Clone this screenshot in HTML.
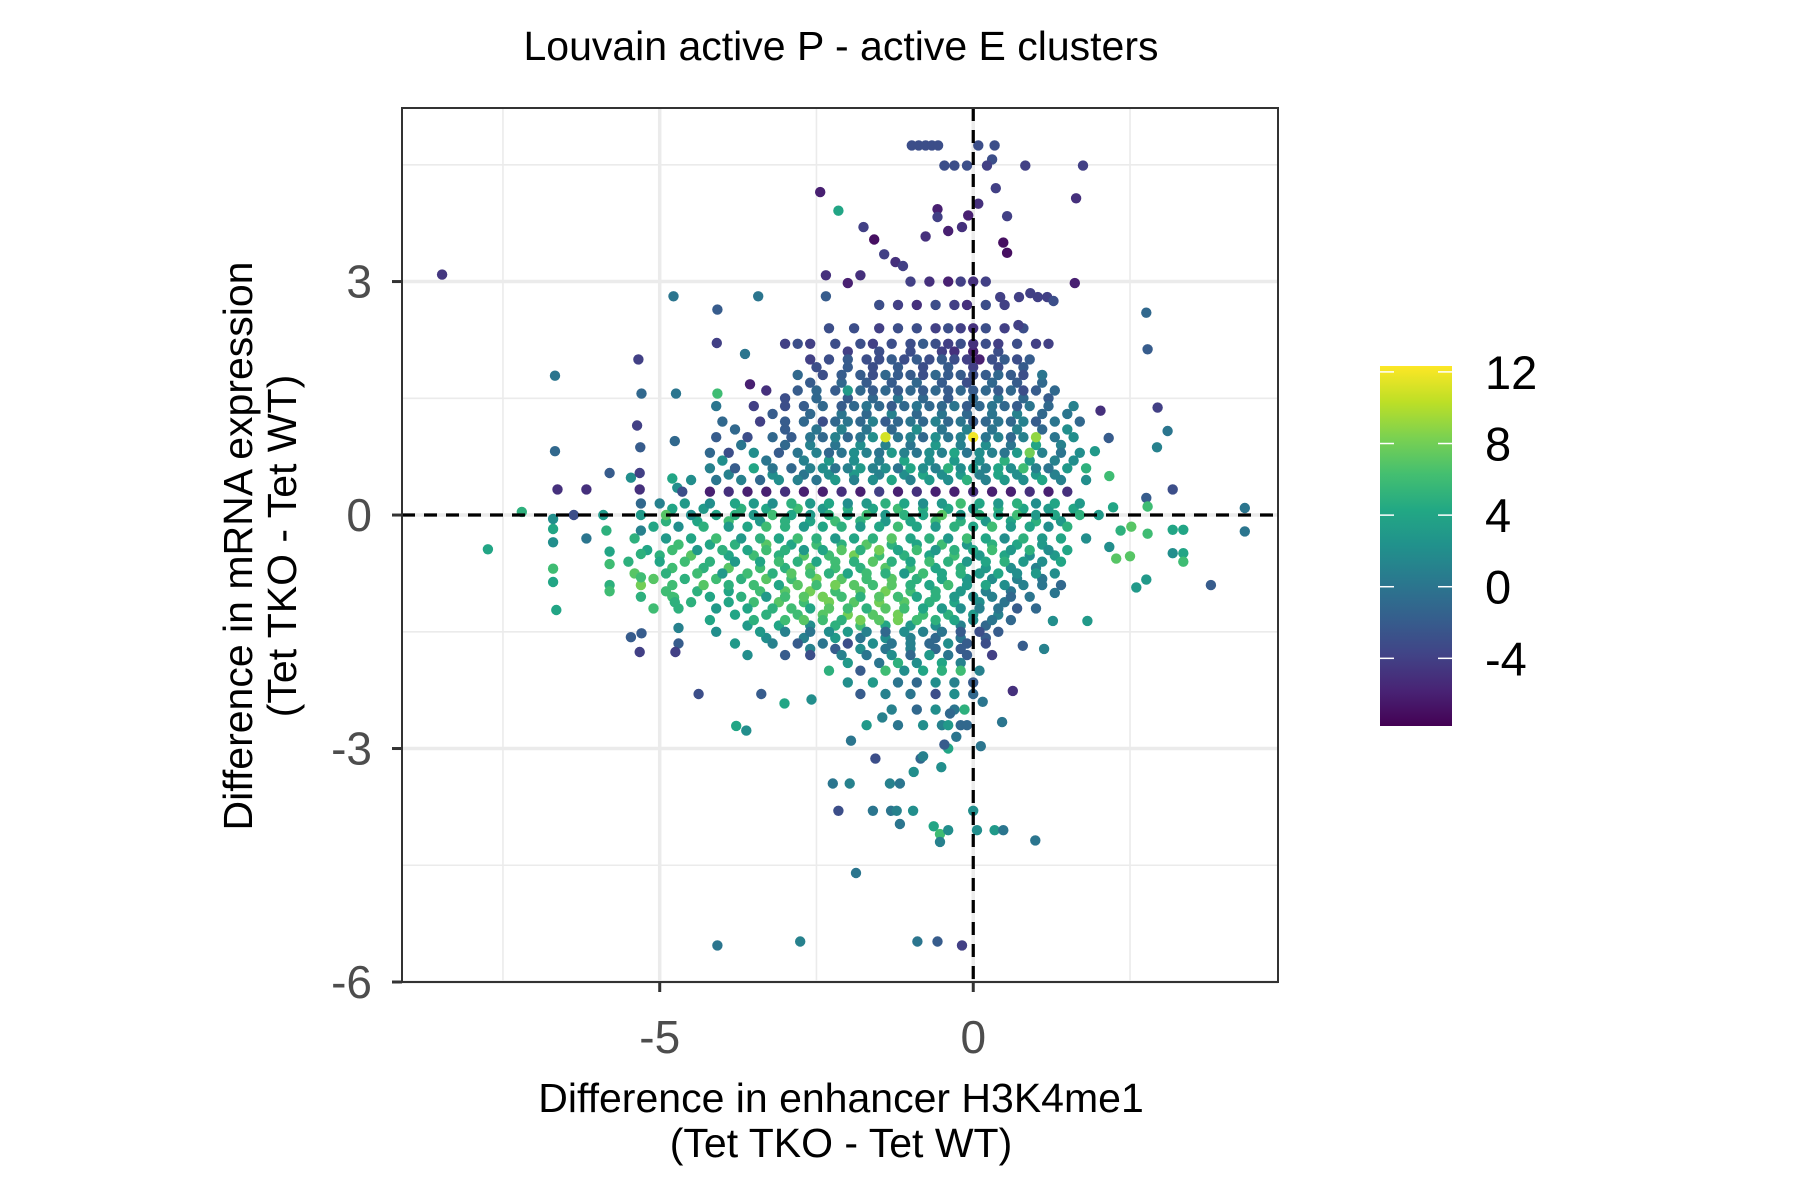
<!DOCTYPE html>
<html><head><meta charset="utf-8"><style>
html,body{margin:0;padding:0;background:#fff;}
svg{display:block;font-family:"Liberation Sans",Arial,sans-serif;}
</style></head><body>
<svg id="chart" width="1800" height="1200" viewBox="0 0 1800 1200">
<defs>
<linearGradient id="vir" x1="0" y1="1" x2="0" y2="0">
<stop offset="0" stop-color="#440154"/><stop offset="0.1" stop-color="#482475"/><stop offset="0.2" stop-color="#414487"/><stop offset="0.3" stop-color="#355f8d"/><stop offset="0.4" stop-color="#2a788e"/><stop offset="0.5" stop-color="#21918c"/><stop offset="0.6" stop-color="#22a884"/><stop offset="0.7" stop-color="#44bf70"/><stop offset="0.8" stop-color="#7ad151"/><stop offset="0.9" stop-color="#bddf26"/><stop offset="1" stop-color="#fde725"/>
</linearGradient>
<clipPath id="pc"><rect x="402" y="108" width="876" height="874"/></clipPath>
</defs>
<text x="841" y="60" text-anchor="middle" font-size="41" fill="#000">Louvain active P - active E clusters</text>
<rect x="402" y="108" width="876" height="874" fill="#fff"/>
<g id="grid"></g>
<g id="pts" clip-path="url(#pc)"></g>
<g id="refs"></g>
<rect x="402" y="108" width="876" height="874" fill="none" stroke="#333" stroke-width="2"/>
<g id="axes"></g>
<text x="841" y="1112" text-anchor="middle" font-size="41">Difference in enhancer H3K4me1</text>
<text x="841" y="1157" text-anchor="middle" font-size="41">(Tet TKO - Tet WT)</text>
<g transform="translate(252,546) rotate(-90)">
<text x="0" y="0" text-anchor="middle" font-size="41">Difference in mRNA expression</text>
<text x="0" y="44" text-anchor="middle" font-size="41">(Tet TKO - Tet WT)</text>
</g>
<rect x="1380" y="366" width="72" height="360" fill="url(#vir)"/>
<g id="legend"></g>
</svg>
<script>
const xTicks=[-5,0];
const yTicks=[3,0,-3,-6];
const xMinor=[-7.5,-2.5,2.5];
const yMinor=[4.5,1.5,-1.5,-4.5];
const cTicks=[12,8,4,0,-4];
// outlier points
const ptX=[-8.47,-6.67,-6.67,-6.63,-6.17,-7.74,-7.2,-6.7,-6.7,-6.7,-6.7,-6.7,-6.65,-6.37,-6.17,-5.9,-5.85,-5.8,-5.8,-5.8,-5.8,-5.8,-5.46,-5.34,-5.29,-5.36,-5.31,-5.32,-5.32,-5.3,-5.3,-5.3,-5.3,-5.46,-5.32,-5.29,-4.78,-4.74,-4.76,-4.8,-4.72,-4.64,-4.77,-4.76,-4.7,-4.7,-4.75,-4.38,-4.08,-4.09,-4.08,-4.08,-3.78,-3.62,-3.64,-3.43,-3.56,-3.38,-3.01,-2.76,-2.58,-2.44,-2.15,-2.35,-2.35,-1.75,-1.58,-2.0,-1.8,-1.42,-1.24,-1.12,-0.98,-0.87,-0.76,-0.66,-0.56,-0.46,-0.3,-0.1,0.08,0.34,0.3,0.22,0.83,1.75,1.64,0.36,0.08,-0.08,-0.18,-0.57,-0.57,-0.76,-0.4,0.54,0.48,0.54,1.62,0.43,0.73,0.91,1.03,1.18,1.28,0.72,2.76,2.78,2.94,3.1,2.93,2.03,2.16,1.94,3.18,2.76,2.78,4.33,4.33,3.79,3.18,3.35,3.18,3.35,3.35,2.6,2.76,2.28,2.5,2.17,2.35,2.52,2.78,2.23,2.17,1.82,1.3,1.27,1.13,0.79,0.63,0.46,0.12,-2.24,-1.97,-2.15,-1.87,-1.6,-1.31,-1.22,-1.33,-1.17,-1.17,-0.96,-0.63,-0.53,-0.53,-0.4,0.0,0.06,0.34,0.48,0.99,-0.89,-0.57,-0.18,-1.56,-0.84,-0.8,-0.51,-0.4,-0.27,-0.4,-0.46,-0.37,-0.14,-0.1,-1.95,-1.7,-1.45,-0.95,0.15];
const ptY=[3.09,1.79,0.82,0.33,0.33,-0.44,0.04,-0.05,-0.18,-0.35,-0.69,-0.86,-1.22,0.0,-0.3,0.0,-0.2,-0.47,-0.63,-0.9,-0.98,0.54,0.48,2.0,1.56,1.15,0.87,0.54,0.33,0.15,-0.2,-0.5,-0.8,-1.57,-1.76,-1.52,2.81,1.56,0.95,0.47,0.35,0.3,-1.06,-1.12,-1.45,-1.65,-1.76,-2.3,2.64,2.21,1.56,-5.53,-2.71,-2.77,2.07,2.81,1.68,-2.3,-2.42,-5.48,-2.37,4.15,3.91,2.81,3.08,3.7,3.54,2.98,3.08,3.35,3.25,3.2,4.75,4.75,4.75,4.75,4.75,4.49,4.49,4.49,4.75,4.75,4.57,4.49,4.49,4.49,4.07,4.2,4.0,3.85,3.7,3.93,3.83,3.58,3.65,3.84,3.5,3.37,2.98,2.8,2.8,2.85,2.8,2.8,2.75,2.44,2.6,2.13,1.38,1.08,0.87,1.34,0.99,0.82,0.33,0.22,0.11,0.09,-0.21,-0.9,-0.19,-0.19,-0.49,-0.49,-0.6,-0.93,-0.83,-0.56,-0.53,-0.41,-0.2,-0.15,-0.24,0.1,0.5,-1.36,-1.0,-1.36,-1.72,-1.68,-2.26,-2.66,-2.97,-3.45,-3.45,-3.8,-4.6,-3.8,-3.8,-3.8,-3.45,-3.45,-3.97,-3.8,-4.0,-4.1,-4.2,-4.05,-3.8,-4.05,-4.05,-4.05,-4.18,-5.48,-5.48,-5.53,-3.13,-3.13,-3.1,-3.24,-3.0,-2.85,-2.7,-2.95,-2.55,-2.5,-2.7,-2.9,-2.7,-2.6,-3.3,-2.4];
const ptC=[-4.5,0,-1,-5,-5,4,5,2,4,2,6,4,4,-3,0,3,5,4,6,5,6,-2,2,-4,-1,-4,-2,-4,-5,-1,1,5,6,-2,-4,-2,0,0,-1,4,2,-3,6,5,1,-2,-4,-3,-2,-4,6,0,4,2,0,0,-6,-2,4,1,2,-6,4,-2,-5,-4,-7,-6,-5,-4,-5,-4,-3,-3,-3,-3,-3,-3,-3,-3,-3,-3,-3,-4,-4,-4,-5,-4,-5,-6,-5,-6,-4,-5,-6,-4,-7,-7,-6,-4,-4,-4,-4,-4,-3,-4,-1,-2,-4,0,1,-5,-2,3,-3,-2,6,0,0,-2,4,4,2,4,6,3,3,7,7,2,5,7,6,4,6,3,0,2,1,-2,-5,0,0,0,1,-3,0,0,0,1,1,0,0,2,4,6,1,2,2,2,3,0,0,0,-2,-4,-3,-1,1,2,4,0,3,-2,-1,5,-1,0,3,1,2,0,-1,3,2,-2,1];
// dense core rows
const rowY=[3.0,2.7,2.4,2.2,2.0,1.8,1.6,1.4,1.2,1.0,0.8,0.6,0.45,0.3,0.15,0.0,-0.15,-0.3,-0.45,-0.6,-0.75,-0.9,-1.05,-1.2,-1.35,-1.5,-1.65,-1.8,-2.0,-2.15,-2.3,-2.5,-2.7];
const rowX=[
[-1.0,-0.7,-0.4,-0.2,0.0,0.2],
[-1.5,-1.2,-0.9,-0.6,-0.3,-0.1,0.2,0.5],
[-2.3,-1.9,-1.5,-1.2,-0.9,-0.6,-0.4,-0.2,0.0,0.2,0.5,0.8],
[-3.0,-2.8,-2.6,-2.2,-1.8,-1.6,-1.3,-1.0,-0.8,-0.6,-0.4,-0.2,0,0.2,0.4,0.7,1.0,1.2],
[-2.6,-2.3,-2.0,-1.7,-1.5,-1.3,-1.1,-0.9,-0.7,-0.5,-0.3,-0.1,0.1,0.3,0.5,0.7,0.9],
[-2.8,-2.4,-2.1,-1.8,-1.6,-1.4,-1.2,-1.0,-0.8,-0.6,-0.4,-0.2,0.0,0.2,0.4,0.6,0.8,1.1],
[-3.3,-2.8,-2.5,-2.2,-2.0,-1.8,-1.6,-1.4,-1.2,-1.0,-0.8,-0.6,-0.4,-0.2,0.0,0.2,0.4,0.6,0.8,1.0,1.3],
[-4.1,-3.5,-3.0,-2.7,-2.4,-2.1,-1.9,-1.7,-1.5,-1.3,-1.1,-0.9,-0.7,-0.5,-0.3,-0.1,0.1,0.3,0.5,0.7,0.9,1.2,1.6],
[-4.0,-3.4,-3.0,-2.7,-2.4,-2.2,-2.0,-1.8,-1.6,-1.4,-1.2,-1.0,-0.8,-0.6,-0.4,-0.2,0.0,0.2,0.4,0.6,0.8,1.0,1.3,1.7],
[-4.1,-3.6,-3.2,-2.9,-2.6,-2.4,-2.2,-2.0,-1.8,-1.6,-1.4,-1.2,-1.0,-0.8,-0.6,-0.4,-0.2,0.0,0.2,0.4,0.6,0.8,1.0,1.3,1.6],
[-4.2,-3.9,-3.5,-3.1,-2.8,-2.5,-2.3,-2.1,-1.9,-1.7,-1.5,-1.3,-1.1,-0.9,-0.7,-0.5,-0.3,-0.1,0.1,0.3,0.5,0.7,0.9,1.1,1.4,1.7],
[-4.2,-3.8,-3.5,-3.2,-2.9,-2.6,-2.4,-2.2,-2.0,-1.8,-1.6,-1.4,-1.2,-1.0,-0.8,-0.6,-0.4,-0.2,0.0,0.2,0.4,0.6,0.8,1.0,1.2,1.5,1.8],
[-4.5,-4.1,-3.7,-3.4,-3.1,-2.8,-2.5,-2.2,-1.9,-1.6,-1.3,-1.0,-0.7,-0.4,-0.1,0.2,0.5,0.8,1.1,1.4,1.8],
[-4.2,-3.9,-3.6,-3.3,-3.0,-2.7,-2.4,-2.1,-1.8,-1.5,-1.2,-0.9,-0.6,-0.3,0.0,0.3,0.6,0.9,1.2,1.5],
[-5.0,-4.6,-4.2,-3.8,-3.5,-3.2,-2.9,-2.6,-2.3,-2.0,-1.7,-1.4,-1.1,-0.8,-0.5,-0.2,0.1,0.4,0.7,1.0,1.3,1.7],
[-5.3,-4.9,-4.5,-4.1,-3.8,-3.5,-3.2,-2.9,-2.6,-2.3,-2.0,-1.7,-1.4,-1.1,-0.8,-0.5,-0.2,0.1,0.4,0.7,1.0,1.3,1.7,2.0],
[-5.1,-4.7,-4.3,-3.9,-3.6,-3.3,-3.0,-2.7,-2.4,-2.1,-1.8,-1.5,-1.2,-0.9,-0.6,-0.3,0.0,0.3,0.6,0.9,1.2,1.5],
[-5.4,-4.9,-4.5,-4.1,-3.7,-3.4,-3.1,-2.8,-2.5,-2.2,-1.9,-1.6,-1.3,-1.0,-0.7,-0.4,-0.1,0.2,0.5,0.8,1.1,1.4,1.8],
[-5.2,-4.8,-4.4,-4.0,-3.6,-3.3,-3.0,-2.7,-2.4,-2.1,-1.8,-1.5,-1.2,-0.9,-0.6,-0.3,0.0,0.3,0.6,0.9,1.2,1.5],
[-5.5,-5.0,-4.6,-4.2,-3.8,-3.4,-3.1,-2.8,-2.5,-2.2,-1.9,-1.6,-1.3,-1.0,-0.7,-0.4,-0.1,0.2,0.5,0.8,1.1,1.4],
[-5.4,-4.9,-4.4,-4.0,-3.6,-3.2,-2.9,-2.6,-2.3,-2.0,-1.7,-1.4,-1.1,-0.8,-0.5,-0.2,0.1,0.4,0.7,1.0,1.3],
[-5.3,-4.8,-4.3,-3.9,-3.5,-3.1,-2.8,-2.5,-2.2,-1.9,-1.6,-1.3,-1.0,-0.7,-0.4,-0.1,0.2,0.5,0.8,1.1,1.4],
[-5.3,-4.8,-4.2,-3.7,-3.3,-3.0,-2.7,-2.4,-2.1,-1.8,-1.5,-1.2,-0.9,-0.6,-0.3,0.0,0.3,0.6,0.9],
[-5.1,-4.7,-4.1,-3.6,-3.2,-2.9,-2.6,-2.3,-2.0,-1.7,-1.4,-1.1,-0.8,-0.5,-0.2,0.1,0.4,0.7,1.0],
[-4.2,-3.5,-3.0,-2.7,-2.4,-2.1,-1.8,-1.5,-1.2,-0.9,-0.6,-0.3,0.0,0.3,0.6],
[-4.1,-3.4,-3.0,-2.6,-2.3,-2.0,-1.7,-1.4,-1.1,-0.8,-0.5,-0.2,0.1,0.4],
[-3.8,-3.2,-2.8,-2.4,-2.0,-1.6,-1.3,-1.0,-0.7,-0.4,-0.1,0.2],
[-3.6,-3.0,-2.6,-2.1,-1.7,-1.3,-1.0,-0.7,-0.4,-0.1,0.3],
[-2.3,-1.8,-1.4,-1.1,-0.8,-0.5,-0.2,0.1],
[-2.0,-1.6,-1.2,-0.9,-0.6,-0.3,0.0],
[-1.8,-1.4,-1.0,-0.6,-0.3,0.0],
[-1.3,-0.9,-0.6,-0.3],
[-1.2,-0.8,-0.5,-0.2]];
const rowC=[
[-4,-5,-6,-4,-5,-4],
[-3,-4,-5,-3,-4,-5,-3,-4],
[-3,-3,-4,-3,-3,-4,-3,-4,-5,-3,-4,-3],
[-4,-3,-4,-3,-3,-4,-3,-3,-2,-3,-4,-3,-5,-3,-4,-3,-4,-4],
[-4,-3,-2,-3,-3,-2,-3,-2,-3,-2,-3,-4,-6,-3,-2,-3,-2],
[-1,-3,-2,-2,-3,-1,-2,-2,-3,-1,-2,-2,-3,-2,-1,-2,-3,0],
[-5,-2,-1,-2,3,-1,-2,-1,-2,-1,-2,-1,-2,-1,-2,-1,-2,-1,-3,-2,-1],
[0,-4,-3,-2,-1,-2,-1,0,-1,-2,-1,0,-1,-1,0,-2,-1,0,-1,-2,0,-1,1],
[-1,-4,-2,-1,-3,-1,0,-1,1,-2,-1,0,-1,1,-1,0,-2,-1,0,-1,1,-2,0,-1],
[-2,-3,-1,-2,0,-1,1,-1,0,2,11,0,1,-1,2,0,1,12,0,1,-1,1,9,0,2],
[-1,-3,2,-2,0,1,-1,0,2,1,0,3,1,0,2,1,4,0,2,1,0,3,8,1,0,2],
[1,-2,4,0,-1,1,2,0,1,3,1,2,0,4,2,1,5,2,3,1,4,2,6,1,0,3,5],
[2,0,1,-1,2,1,0,3,1,2,4,1,3,2,5,1,3,2,4,1,2],
[-6,-5,-6,-6,-5,-6,-6,-5,-6,-4,-6,-5,-6,-6,-5,-6,-6,-5,-6,-5],
[1,3,2,4,3,2,5,3,4,2,3,5,4,2,3,6,4,3,5,2,4,3],
[3,7,2,4,5,3,6,4,3,5,4,6,3,5,4,7,3,5,4,6,3,4,5,3],
[4,2,5,3,4,6,5,3,4,5,3,4,6,4,3,5,4,6,3,4,2,5],
[5,3,4,6,3,5,4,6,5,3,4,5,7,4,5,3,6,4,2,5,3,4,2],
[4,6,3,5,4,6,5,3,4,7,5,8,4,6,3,5,4,6,3,5,2,4],
[5,4,6,5,3,4,6,5,4,6,5,7,5,4,6,5,3,4,5,3,2,4],
[7,5,6,3,6,5,7,6,5,4,6,5,3,6,4,5,3,4,2,3,2],
[8,6,7,5,6,4,7,6,8,7,6,7,5,4,6,3,4,2,1,0,-1],
[5,6,4,5,3,6,7,8,6,5,7,6,4,5,3,2,1,-1,0],
[6,5,3,4,5,6,4,7,6,5,7,6,4,3,2,1,0,-2,-1],
[4,5,6,7,6,5,8,7,8,6,5,4,2,0,-1],
[2,3,1,0,2,3,1,-1,2,1,0,-2,-3,-2],
[3,1,-2,0,-3,2,0,1,-1,2,-2,-3],
[2,-2,-3,1,0,2,-1,3,0,-2,-4],
[5,-2,6,2,4,5,6,1],
[2,3,0,-1,2,1,-2],
[-2,1,0,-3,2,-1],
[1,-1,2,0],
[0,2,1,-1]];
// interleaved fill rows in the densest part
const row2Y=[2.1,1.9,1.7,1.5,1.3,1.1,0.9,0.7,0.52,0.08,-0.08,-0.38,-0.52,-0.68,-0.82,-0.98,-1.12,-1.28,-1.42,-1.58,-1.72,-1.9];
const row2X=[
[-2.0,-1.5,-1.0,-0.5,-0.3,0.0,0.4],
[-2.5,-2.0,-1.6,-1.2,-0.8,-0.4,0.0,0.4,0.8],
[-2.6,-2.1,-1.7,-1.3,-0.9,-0.5,-0.1,0.3,0.7,1.1],
[-3.0,-2.5,-2.0,-1.6,-1.2,-0.8,-0.4,0.0,0.4,0.8,1.2],
[-3.2,-2.6,-2.1,-1.7,-1.3,-0.9,-0.5,-0.1,0.3,0.7,1.1,1.5],
[-3.8,-3.0,-2.5,-2.1,-1.7,-1.3,-0.9,-0.5,-0.1,0.3,0.7,1.1,1.5],
[-3.7,-3.0,-2.6,-2.2,-1.8,-1.4,-1.0,-0.6,-0.2,0.2,0.6,1.0,1.4],
[-4.0,-3.3,-2.7,-2.3,-1.9,-1.5,-1.1,-0.7,-0.3,0.1,0.5,0.9,1.3,1.6],
[-3.9,-3.2,-2.7,-2.3,-1.9,-1.5,-1.1,-0.8,-0.5,-0.2,0.1,0.4,0.7,1.0,1.3],
[-4.8,-4.3,-3.7,-3.3,-2.8,-2.4,-2.0,-1.6,-1.2,-0.8,-0.4,0.0,0.4,0.8,1.2,1.6],
[-4.9,-4.4,-3.9,-3.4,-3.0,-2.6,-2.2,-1.8,-1.4,-1.0,-0.6,-0.2,0.2,0.6,1.0,1.4],
[-4.7,-4.2,-3.8,-3.3,-2.9,-2.5,-2.1,-1.7,-1.3,-0.9,-0.5,-0.1,0.3,0.7,1.1],
[-5.0,-4.5,-3.9,-3.5,-3.1,-2.7,-2.3,-1.9,-1.5,-1.1,-0.7,-0.3,0.1,0.5,0.9,1.3],
[-4.8,-4.3,-3.9,-3.4,-3.0,-2.6,-2.2,-1.8,-1.4,-1.0,-0.6,-0.2,0.2,0.6,1.0],
[-5.1,-4.6,-4.1,-3.7,-3.3,-2.9,-2.5,-2.1,-1.7,-1.3,-0.9,-0.5,-0.1,0.3,0.7,1.1],
[-4.9,-4.4,-3.9,-3.4,-3.0,-2.6,-2.2,-1.8,-1.4,-1.0,-0.6,-0.2,0.2,0.6],
[-4.5,-3.9,-3.5,-3.1,-2.7,-2.3,-1.9,-1.5,-1.1,-0.7,-0.3,0.1,0.5],
[-3.8,-3.3,-2.8,-2.4,-2.0,-1.6,-1.2,-0.8,-0.4,0.0,0.4],
[-3.6,-3.1,-2.6,-2.2,-1.8,-1.4,-1.0,-0.6,-0.2,0.2],
[-3.3,-2.7,-2.2,-1.8,-1.4,-1.0,-0.6,-0.2,0.2],
[-2.6,-2.2,-1.8,-1.4,-1.0,-0.6,-0.2],
[-2.0,-1.5,-1.2,-0.9,-0.5,-0.2]];
const row2C=[
[-4,-3,-3,-4,-5,-6,-3],
[-3,-2,-3,-2,-3,-2,-4,-3,-2],
[-2,-1,-2,-2,-1,-2,-3,-1,-2,-1],
[-3,-1,-2,-1,0,-1,-2,-1,0,-1,-2],
[-2,-1,0,-1,1,-1,0,-1,0,1,-1,0],
[-1,-2,0,1,0,-1,2,0,1,0,1,-1,2],
[0,-1,1,0,2,1,0,3,1,2,0,4,1],
[2,0,1,3,2,1,4,2,3,2,5,3,1,2],
[1,2,0,2,3,1,2,4,2,3,1,4,2,3,1],
[4,3,5,4,6,3,5,4,6,5,4,3,5,4,3,4],
[5,4,6,3,5,4,6,5,3,4,6,5,3,4,5,3],
[6,4,5,7,4,6,5,7,5,4,6,3,5,4,3],
[5,7,4,6,5,7,6,8,6,5,4,6,3,4,2,3],
[6,5,7,6,5,7,6,5,7,6,4,5,3,2,1],
[7,5,6,5,7,6,8,7,6,7,5,4,3,2,1,0],
[6,5,4,6,7,8,6,7,8,6,5,3,1,0],
[5,4,6,7,6,8,7,8,7,5,4,2,0],
[4,5,6,7,8,7,8,6,5,3,1],
[3,4,2,5,6,4,3,2,1,-1],
[2,1,3,0,2,1,-1,0,-2],
[1,-2,2,0,1,-1,-2],
[3,0,5,2,4,1]];

const NS='http://www.w3.org/2000/svg';
const X0=402,X1=1278,Y0=108,Y1=982;
const xMin=-9.11,xMax=4.86,yMin=-6.0,yMax=5.23;
const cMin=-7.78,cMax=12.33;
function sx(v){return X0+(v-xMin)/(xMax-xMin)*(X1-X0);}
function sy(v){return Y1-(v-yMin)/(yMax-yMin)*(Y1-Y0);}
function cy(v){return 726-(v-cMin)/(cMax-cMin)*360;}
const stops=['#440154','#482475','#414487','#355f8d','#2a788e','#21918c','#22a884','#44bf70','#7ad151','#bddf26','#fde725'];
function hex(h){return [1,3,5].map(i=>parseInt(h.substr(i,2),16));}
function vir(c){if(typeof c!=='number'||isNaN(c))c=0;let t=(c-cMin)/(cMax-cMin);t=Math.max(0,Math.min(1,t));const p=t*10,i=Math.min(9,Math.floor(p)),f=p-i;const a=hex(stops[i]),b=hex(stops[i+1]);return 'rgb('+a.map((v,k)=>Math.round(v+(b[k]-v)*f)).join(',')+')';}
function mk(tag,attrs,parent){const e=document.createElementNS(NS,tag);for(const k in attrs)e.setAttribute(k,attrs[k]);parent.appendChild(e);return e;}
const grid=document.getElementById('grid');
xMinor.forEach(v=>{const l=mk('line',{x1:sx(v),x2:sx(v),y1:Y0,y2:Y1,stroke:'#ebebeb','stroke-width':1.6},grid);

});
yMinor.forEach(v=>{const l=mk('line',{x1:X0,x2:X1,y1:sy(v),y2:sy(v),stroke:'#ebebeb','stroke-width':1.6},grid);

});
xTicks.forEach(v=>{const l=mk('line',{x1:sx(v),x2:sx(v),y1:Y0,y2:Y1,stroke:'#ebebeb','stroke-width':3.5},grid);

});
yTicks.forEach(v=>{const l=mk('line',{x1:X0,x2:X1,y1:sy(v),y2:sy(v),stroke:'#ebebeb','stroke-width':3.5},grid);

});
const pts=document.getElementById('pts');
function dot(x,y,c){const e=mk('circle',{cx:sx(x).toFixed(1),cy:sy(y).toFixed(1),r:5.2,fill:vir(c)},pts);

}
row2Y.forEach((y,i)=>row2X[i].forEach((x,j)=>dot(x,y,row2C[i][j])));
rowY.forEach((y,i)=>rowX[i].forEach((x,j)=>dot(x,y,rowC[i][j])));
const nPt=Math.min(ptX.length,ptY.length);
for(let i=0;i<nPt;i++)dot(ptX[i],ptY[i],ptC[i]);
const refs=document.getElementById('refs');
const vl=mk('line',{x1:sx(0),x2:sx(0),y1:Y0,y2:Y1,stroke:'#000','stroke-width':3.2,'stroke-dasharray':'13,9'},refs);


const hl=mk('line',{x1:X0,x2:X1,y1:sy(0),y2:sy(0),stroke:'#000','stroke-width':3.2,'stroke-dasharray':'13,9'},refs);


const axes=document.getElementById('axes');
xTicks.forEach(v=>{const t=mk('line',{x1:sx(v),x2:sx(v),y1:Y1,y2:Y1+10,stroke:'#333','stroke-width':3},axes);


const l=mk('text',{x:sx(v),y:1053,'text-anchor':'middle','font-size':46,fill:'#4d4d4d'},axes);l.textContent=v;

});
yTicks.forEach(v=>{const t=mk('line',{x1:X0-10,x2:X0,y1:sy(v),y2:sy(v),stroke:'#333','stroke-width':3},axes);


const l=mk('text',{x:372,y:sy(v)+16,'text-anchor':'end','font-size':46,fill:'#4d4d4d'},axes);l.textContent=v;

});
const leg=document.getElementById('legend');
cTicks.forEach(v=>{const y=cy(v);
const a=mk('line',{x1:1380,x2:1394,y1:y,y2:y,stroke:'#fff','stroke-width':1.5},leg);


const b=mk('line',{x1:1438,x2:1452,y1:y,y2:y,stroke:'#fff','stroke-width':1.5},leg);


const l=mk('text',{x:1485,y:y+17,'font-size':47,fill:'#000'},leg);l.textContent=v;

});
</script>
</body></html>
